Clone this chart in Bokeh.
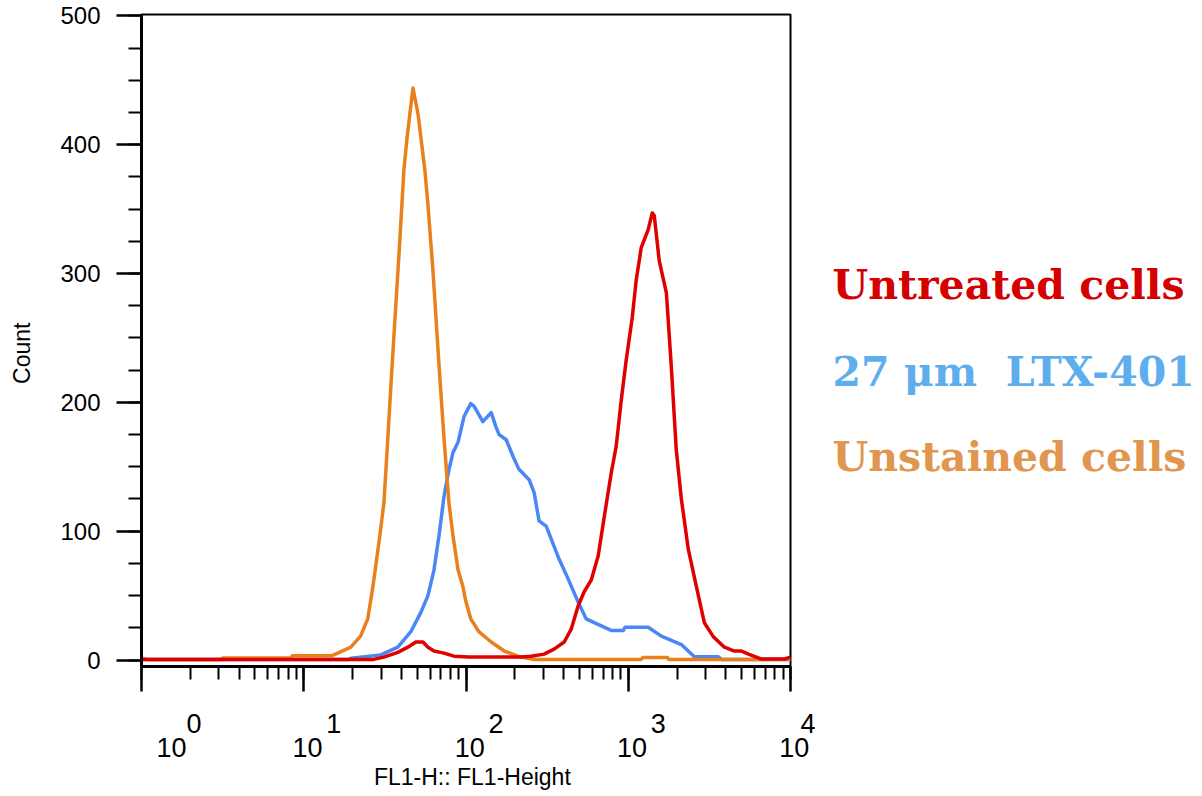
from bokeh.plotting import figure
from bokeh.layouts import row
from bokeh.models import Range1d, LogTicker, SingleIntervalTicker, Label, LogAxis
from bokeh.embed import file_html
from bokeh.resources import INLINE

# ---------------- data ----------------
unstained_x = [1.01, 1.09, 3.09, 3.16, 8.32, 8.51, 14.8, 16.2, 19.5, 22.4,
               24.8, 26.7, 29.4, 31.2, 33.0, 34.9, 39.2, 41.4, 43.3, 47.1,
               50.6, 55.8, 58.2, 62.5, 68.5, 73.1, 78.5, 83.2, 89.3, 95.7,
               100, 107, 120, 143, 172, 209, 263, 1202, 1230, 1738,
               1778, 10000]
unstained_y = [1.5, 0.5, 0.5, 1.5, 1.5, 3.3, 3.3, 5.4, 10, 18.6,
               32, 57, 96, 122, 173, 225, 328, 380, 405, 444,
               424, 380, 354, 303, 225, 173, 122, 96, 70, 57,
               45, 32, 22, 14, 7, 3, 0.5, 0.5, 2, 2,
               0.5, 0.5]

ltx_x = [1.0, 19.0, 19.5, 29.9, 38.0, 45.7, 52.7, 58.3, 63.5, 68.1,
         73.2, 78.6, 83.1, 89.3, 97.2, 107, 112, 127, 143, 153,
         160, 177, 195, 212, 245, 263, 282, 312, 370, 426,
         491, 550, 617, 785, 932, 957, 1327, 1600, 2125, 2555,
         3594, 3749, 10000]
ltx_y = [0.5, 0.5, 1.5, 4, 10, 22, 37, 50, 70, 96,
         127, 148, 161, 169, 189, 199, 197, 185, 192, 181,
         175, 171, 158, 148, 140, 130, 108, 104, 80, 63,
         45, 32, 29, 23, 23, 25.5, 25.5, 18.6, 12, 2.5,
         2.5, 0.5, 0.5]

untreated_x = [1.0, 27.0, 31.2, 38.0, 43.8, 49.1, 54.3, 58.3, 63.5, 73.2,
               84.3, 104, 219, 252, 303, 349, 403, 445, 491, 535,
               591, 653, 711, 785, 843, 906, 972, 1059, 1120, 1202,
               1327, 1406, 1446, 1552, 1718, 1842, 1977, 2125, 2344, 2630,
               2944, 3350, 3917, 4511, 4989, 5508, 6627, 9185, 10000]
untreated_y = [0.5, 0.5, 2.3, 6, 10, 14, 14, 10, 7, 5.4,
               3, 2.3, 2.3, 3, 4.6, 8.5, 14, 24, 42, 53,
               62, 81, 111, 145, 166, 202, 233, 266, 295, 320,
               334, 347, 345, 310, 285, 228, 163, 125, 86, 57,
               29, 18, 10, 7, 7, 4.6, 0.8, 0.8, 2.3]

y_ticks = [0, 100, 200, 300, 400, 500]
x_ticks = [1, 10, 100, 1000, 10000]
x_tick_base = "10"
x_tick_exponents = ["0", "1", "2", "3", "4"]

legend_texts = ["Untreated cells", "27 \u03bcm\u00a0 LTX-401", "Unstained cells"]
legend_colors = ["#d50000", "#5eaeee", "#e0964e"]

x_title = "FL1-H:: FL1-Height"
y_title = "Count"

NB = "\u00a0"
SANS = "Liberation Sans"

# ---------------- main figure ----------------
W, H = 815, 796
FL, FR, FT, FB = 141, 790, 14, 666   # frame edges in canvas pixels
p = figure(width=W, height=H, x_axis_type="log",
           x_range=Range1d(1, 10000), y_range=Range1d(-5, 501),
           output_backend="svg", toolbar_location=None,
           min_border_left=FL, min_border_right=W - FR,
           min_border_top=FT, min_border_bottom=H - FB)
p.grid.visible = False
p.outline_line_color = "black"
p.outline_line_width = 2
p.background_fill_color = "white"
p.border_fill_color = "white"

p.line(ltx_x, ltx_y, color="#4a86f5", line_width=3.5, line_join="round")
p.line(unstained_x, unstained_y, color="#e8801e", line_width=3.5, line_join="round")
p.line(untreated_x, untreated_y, color="#e00000", line_width=3.5, line_join="round")

# x axis 1: ticks + raised exponents
xa = p.xaxis[0]
xa.ticker = LogTicker(mantissas=[1], desired_num_ticks=5, num_minor_ticks=10)
xa.axis_line_width = 3
xa.major_tick_out = 25
xa.major_tick_in = 0
xa.minor_tick_out = 13
xa.minor_tick_in = 0
xa.major_tick_line_width = 2.5
xa.minor_tick_line_width = 2
xa.major_label_standoff = 17
xa.major_label_text_font = SANS
xa.major_label_text_font_size = "27px"
xa.major_label_text_color = "black"
xa.major_label_overrides = {t: (NB * (14 if i == 0 else 8)) + e
                            for i, (t, e) in enumerate(zip(x_ticks, x_tick_exponents))}

# x axis 2: "10" bases + axis title
xb = LogAxis(ticker=LogTicker(mantissas=[1], desired_num_ticks=5, num_minor_ticks=0))
xb.axis_line_color = None
xb.major_tick_line_color = None
xb.minor_tick_line_color = None
xb.major_tick_out = 0
xb.major_tick_in = 0
xb.minor_tick_out = 0
xb.minor_tick_in = 0
xb.major_label_standoff = -9
xb.major_label_text_font = SANS
xb.major_label_text_font_size = "27px"
xb.major_label_text_color = "black"
xb.major_label_overrides = {t: (NB * (8 if i == 0 else 1)) + x_tick_base
                            for i, t in enumerate(x_ticks)}
xb.axis_label = NB * 2 + x_title
xb.axis_label_standoff = -2
xb.axis_label_text_font = SANS
xb.axis_label_text_font_size = "23px"
xb.axis_label_text_font_style = "normal"
xb.axis_label_text_color = "black"
p.add_layout(xb, "below")

# y axis
ya = p.yaxis[0]
ya.ticker = SingleIntervalTicker(interval=100, num_minor_ticks=4)
ya.axis_line_width = 3
ya.major_tick_out = 25
ya.major_tick_in = 0
ya.minor_tick_out = 13
ya.minor_tick_in = 0
ya.major_tick_line_width = 2.5
ya.minor_tick_line_width = 2
ya.major_label_standoff = 16
ya.major_label_text_font = SANS
ya.major_label_text_font_size = "24px"
ya.major_label_text_color = "black"
ya.axis_label = y_title + NB * 4
ya.axis_label_standoff = 22
ya.axis_label_text_font = SANS
ya.axis_label_text_font_size = "23px"
ya.axis_label_text_font_style = "normal"
ya.axis_label_text_color = "black"

# ---------------- legend panel (frame is aligned with the main frame) ----------------
LW = 1194 - W
leg = figure(width=LW, height=H, x_range=Range1d(0, LW), y_range=Range1d(0, 1),
             output_backend="svg", toolbar_location=None,
             x_axis_location=None, y_axis_location=None,
             min_border_left=0, min_border_right=0,
             min_border_top=FT, min_border_bottom=H - FB)
leg.grid.visible = False
leg.outline_line_color = None
leg.background_fill_color = "white"
leg.border_fill_color = "white"
for txt, col, base in zip(legend_texts, legend_colors, [284, 371, 456]):
    leg.add_layout(Label(x=832 - W, x_units="screen", y=FB - base, y_units="screen",
                         text=txt, text_align="left", text_baseline="alphabetic",
                         text_font="DejaVu Serif", text_font_style="bold",
                         text_font_size="41px", text_color=col))

layout = row(p, leg)
open("out.html", "w").write(file_html(layout, INLINE))
